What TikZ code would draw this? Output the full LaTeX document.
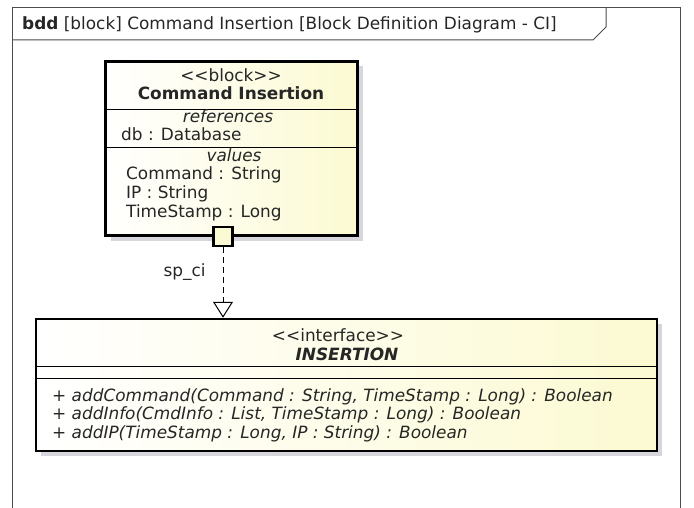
\documentclass[tikz,border=0pt]{standalone}
\usepackage{fontspec}
\setmainfont{DejaVu Sans}
\usetikzlibrary{arrows.meta,shadows}
\definecolor{blockfill}{RGB}{252,250,210}
\definecolor{shadowgray}{RGB}{214,214,220}
\def\stereo#1{<{}<#1>{}>}

\begin{document}
\begin{tikzpicture}[x=1pt,y=-1pt,font=\fontsize{16.9}{19}\selectfont,
  every node/.style={inner sep=0pt,text=black!85},
  umlbox/.style={draw,line width=2.5pt,left color=white,right color=blockfill,
    drop shadow={shadow xshift=5pt,shadow yshift=-5pt,fill=shadowgray,opacity=1}}]
  \useasboundingbox (0,0) rectangle (694,508);
  % frame
  \draw[black!70,line width=1pt](12,508) -- (12,8) -- (680,8) -- (680,508);
  \draw[black!70,line width=1pt](12,40) -- (593,40) -- (606,27) -- (606,8);
  \node[anchor=base west] (title) at (22,30) {\textbf{bdd} [block] Command Insertion [Block Definition Diagram - CI]};

  % block
  \node[umlbox,minimum width=252,minimum height=174] (ci) at (231.5,148.5) {};
  \draw[line width=1pt]([yshift=-49pt]ci.north west) -- ([yshift=-49pt]ci.north east);
  \draw[line width=1pt]([yshift=-87pt]ci.north west) -- ([yshift=-87pt]ci.north east);
  \node[anchor=base] (cist) at (231,82) {\stereo{block}};
  \node[anchor=base] (ciname) at (231,100) {\textbf{Command Insertion}};
  \node[anchor=base] (refs) at (228,123) {\textit{references}};
  \node[anchor=base west] (db) at (121,141) {db : Database};
  \node[anchor=base] (vals) at (234,162) {\textit{values}};
  \node[anchor=base west] (cmd) at (126,180) {Command : String};
  \node[anchor=base west] (ip) at (126,199) {IP : String};
  \node[anchor=base west] (ts) at (126,218) {TimeStamp : Long};
  \node[draw,line width=2.5pt,fill=blockfill,minimum size=19] (port) at (223,236.5) {};

  % interface
  \node[umlbox,minimum width=621,minimum height=132] (ins) at (346.5,385) {};
  \draw[line width=1pt]([yshift=-49pt]ins.north west) -- ([yshift=-49pt]ins.north east);
  \draw[line width=1pt]([yshift=-61pt]ins.north west) -- ([yshift=-61pt]ins.north east);
  \node[anchor=base] (inst) at (338,341) {\stereo{interface}};
  \node[anchor=base] (insname) at (347,360) {\textbf{\textit{INSERTION}}};
  \node[anchor=base west] (op1) at (52,401) {+ \textit{addCommand(Command : String, TimeStamp : Long) : Boolean}};
  \node[anchor=base west] (op2) at (52,419) {+ \textit{addInfo(CmdInfo : List, TimeStamp : Long) : Boolean}};
  \node[anchor=base west] (op3) at (52,438) {+ \textit{addIP(TimeStamp : Long, IP : String) : Boolean}};

  % realization
  \draw[line width=1pt,dash pattern=on 6pt off 4pt,-{Triangle[length=16pt,width=20pt,fill=white,line width=1pt]}]
    (port) -- node[pos=0.35,left=17pt] (spci) {sp\_ci} (ins.north -| port);
\end{tikzpicture}
\end{document}
